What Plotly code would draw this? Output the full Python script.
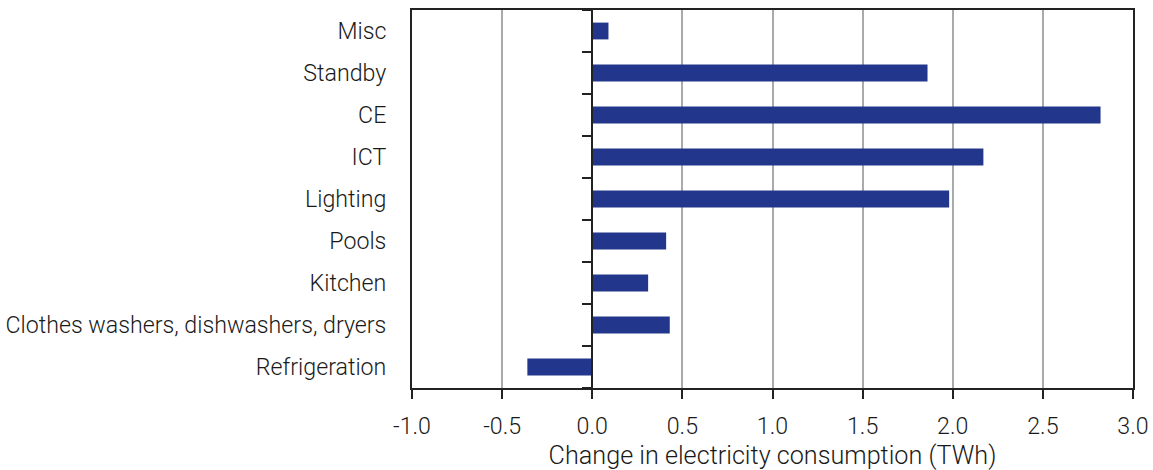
import plotly.graph_objects as go

categories = ["Refrigeration", "Clothes washers, dishwashers, dryers", "Kitchen", "Pools",
              "Lighting", "ICT", "CE", "Standby", "Misc"]
values = [-0.36, 0.43, 0.31, 0.41, 1.98, 2.17, 2.82, 1.86, 0.09]
x_ticks = [-1.0, -0.5, 0.0, 0.5, 1.0, 1.5, 2.0, 2.5, 3.0]
x_title = "Change in electricity consumption (TWh)"

BAR = "#22368B"
FONT = "Roboto"

fig = go.Figure()
fig.add_trace(go.Bar(y=categories, x=values, orientation="h", marker_color=BAR,
                     marker_line_width=0, width=0.4, showlegend=False))
# invisible trace to carry the category axis drawn at x = 0
fig.add_trace(go.Scatter(y=categories, x=[0] * len(categories), yaxis="y2", mode="markers",
                         marker=dict(opacity=0), showlegend=False, hoverinfo="skip"))

xmin, xmax = x_ticks[0], x_ticks[-1]
fig.update_layout(
    width=1153, height=470,
    margin=dict(l=412, r=20, t=10, b=82),
    paper_bgcolor="white", plot_bgcolor="white",
    font=dict(family=FONT, size=23.2, color="#1a1a1a", weight=300),
    xaxis=dict(range=[xmin, xmax], tickvals=x_ticks, ticktext=[f"{v:.1f}" for v in x_ticks],
               showgrid=True, gridcolor="#aaaaaa", gridwidth=1.5, zeroline=False,
               showline=True, linecolor="#222222", linewidth=2, mirror=True,
               ticks="outside", ticklen=9, tickwidth=2, tickcolor="#222222",
               ticklabelstandoff=7, automargin=False,
               title=dict(text=x_title, standoff=12, font=dict(size=25.2, weight=300))),
    yaxis=dict(type="category", categoryorder="array", categoryarray=categories,
               range=[-0.5, len(categories) - 0.5], showgrid=False, zeroline=False,
               showline=True, linecolor="#222222", linewidth=2, mirror=True,
               ticks="", ticklabelstandoff=19, automargin=False),
    yaxis2=dict(type="category", categoryorder="array", categoryarray=categories,
                range=[-0.5, len(categories) - 0.5], overlaying="y", anchor="free",
                position=(0 - xmin) / (xmax - xmin), side="left", automargin=False,
                showgrid=False, zeroline=False, showline=True, linecolor="#222222", linewidth=2,
                ticks="outside", tickson="boundaries", ticklen=9, tickwidth=2, tickcolor="#222222",
                showticklabels=False),
)
fig.write_html("out.html", config={"displayModeBar": False},
               post_script="document.body.style.margin='0';document.body.style.overflow='hidden';")
